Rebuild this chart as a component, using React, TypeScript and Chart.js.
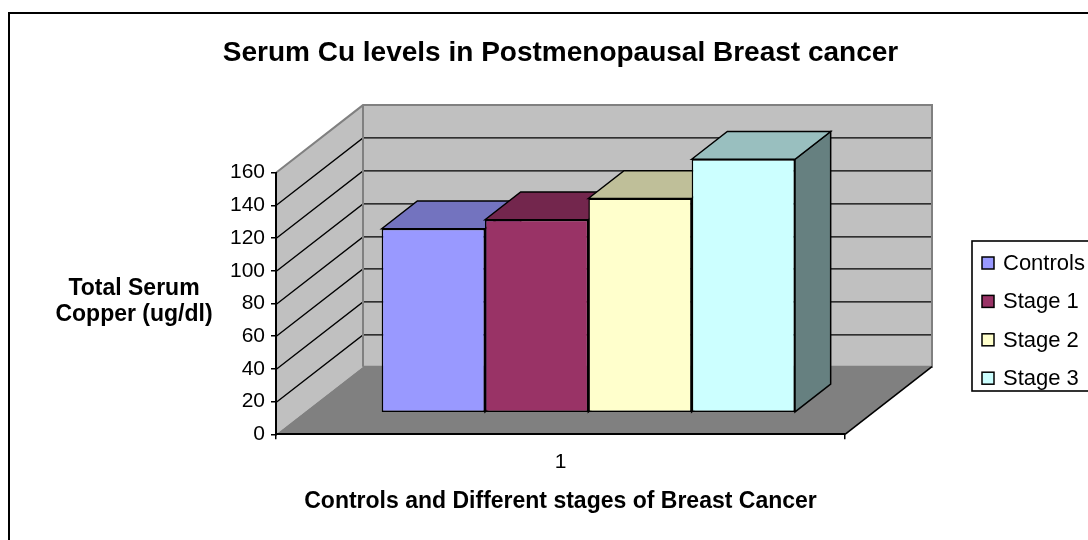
import React, { useEffect, useRef } from 'react';
import { Chart, registerables } from 'chart.js';

Chart.register(...registerables);

// ---------- data ----------
const categories = ['1'];
const seriesLabels = ['Controls', 'Stage 1', 'Stage 2', 'Stage 3'];
const controlsValues = [112.5];
const stage1Values = [118];
const stage2Values = [131];
const stage3Values = [155];
const seriesColors = ['#9999FF', '#993366', '#FFFFCC', '#CCFFFF'];
const yMin = 0;
const yMax = 160;
const yStep = 20;
const chartTitle = 'Serum Cu levels in Postmenopausal Breast cancer';
const yAxisTitle = ['Total Serum', 'Copper (ug/dl)'];
const xAxisTitle = 'Controls and Different stages of Breast Cancer';

// ---------- layout / style ----------
const FONT = "'Liberation Sans', Arial, Helvetica, sans-serif";
const W = 1088;
const H = 540;
const AREA = { left: 276, right: 845, top: 172.7, bottom: 434.3 };
const DEPTH = { dx: 87, dy: 67.6 };
const BAR_FRONT = 0.32;
const BAR_BACK = 0.73;
const WALL = '#c0c0c0';
const FLOOR = '#808080';
const EDGE = '#808080';

function shade(hex: string, f: number) {
  const n = parseInt(hex.slice(1), 16);
  const r = Math.round(((n >> 16) & 255) * f);
  const g = Math.round(((n >> 8) & 255) * f);
  const b = Math.round((n & 255) * f);
  return `rgb(${r},${g},${b})`;
}

function poly(ctx: CanvasRenderingContext2D, pts: number[][], fill?: string, stroke?: string, lw = 1) {
  ctx.beginPath();
  pts.forEach(([x, y], i) => (i === 0 ? ctx.moveTo(x, y) : ctx.lineTo(x, y)));
  ctx.closePath();
  if (fill) {
    ctx.fillStyle = fill;
    ctx.fill();
  }
  if (stroke) {
    ctx.strokeStyle = stroke;
    ctx.lineWidth = lw;
    ctx.lineJoin = 'miter';
    ctx.stroke();
  }
}

const excel3d = {
  id: 'excel3d',
  beforeDraw(chart: any) {
    const { ctx, chartArea: a } = chart;
    const ys = chart.scales.y;
    const { dx, dy } = DEPTH;
    ctx.save();
    ctx.fillStyle = '#fff';
    ctx.fillRect(0, 0, chart.width, chart.height);
    // outer frame
    ctx.strokeStyle = '#000';
    ctx.lineWidth = 2;
    ctx.strokeRect(9, 13, chart.width + 40, chart.height + 40);

    // walls and floor
    poly(ctx, [[a.left, a.top], [a.left + dx, a.top - dy], [a.left + dx, a.bottom - dy], [a.left, a.bottom]], WALL);
    poly(ctx, [[a.left + dx, a.top - dy], [a.right + dx, a.top - dy], [a.right + dx, a.bottom - dy], [a.left + dx, a.bottom - dy]], WALL);
    poly(ctx, [[a.left, a.bottom], [a.left + dx, a.bottom - dy], [a.right + dx, a.bottom - dy], [a.right, a.bottom]], FLOOR);

    // gridlines (side + back wall)
    ctx.strokeStyle = '#000';
    ctx.lineWidth = 1.4;
    for (const t of ys.ticks) {
      if (t.value <= yMin || t.value >= yMax) continue;
      const py = Math.round(ys.getPixelForValue(t.value)) + 0.5;
      ctx.beginPath();
      ctx.moveTo(a.left, py);
      ctx.lineTo(a.left + dx, py - dy);
      ctx.lineTo(a.right + dx, py - dy);
      ctx.stroke();
    }
    // wall edges
    ctx.strokeStyle = EDGE;
    ctx.lineWidth = 2;
    ctx.beginPath();
    ctx.moveTo(a.left, a.top);
    ctx.lineTo(a.left + dx, a.top - dy);
    ctx.lineTo(a.right + dx, a.top - dy);
    ctx.lineTo(a.right + dx, a.bottom - dy);
    ctx.lineTo(a.left + dx, a.bottom - dy);
    ctx.moveTo(a.left + dx, a.top - dy);
    ctx.lineTo(a.left + dx, a.bottom - dy);
    ctx.stroke();
    // floor right edge
    ctx.strokeStyle = '#000';
    ctx.lineWidth = 1.6;
    ctx.beginPath();
    ctx.moveTo(a.right, a.bottom);
    ctx.lineTo(a.right + dx, a.bottom - dy);
    ctx.stroke();

    // chart title
    ctx.fillStyle = '#000';
    ctx.textAlign = 'center';
    ctx.textBaseline = 'alphabetic';
    ctx.font = `bold 28px ${FONT}`;
    ctx.fillText(chartTitle, (a.left + a.right) / 2, 61);

    // y axis title (horizontal, two lines)
    ctx.font = `bold 23px ${FONT}`;
    yAxisTitle.forEach((line, i) => ctx.fillText(line, 134, 295 + i * 26));
    ctx.restore();
  },
  beforeDatasetsDraw(chart: any) {
    const { ctx } = chart;
    const { dx, dy } = DEPTH;
    const fx = dx * BAR_FRONT;
    const fy = dy * BAR_FRONT;
    const ddx = dx * (BAR_BACK - BAR_FRONT);
    const ddy = dy * (BAR_BACK - BAR_FRONT);
    // draw bars from left to right so nearer faces overlap correctly
    chart.data.datasets.forEach((ds: any, di: number) => {
      const meta = chart.getDatasetMeta(di);
      if (!meta.visible) return;
      const color = ds.backgroundColor as string;
      meta.data.forEach((el: any) => {
        const { x, y, base, width } = el.getProps(['x', 'y', 'base', 'width'], true);
        const x0 = x - width / 2;
        const x1 = x + width / 2;
        ctx.save();
        ctx.translate(fx, -fy);
        el.draw(ctx);
        // side face
        poly(ctx, [[x1, y], [x1 + ddx, y - ddy], [x1 + ddx, base - ddy], [x1, base]], shade(color, 0.5), '#000', 1.5);
        // top face
        poly(ctx, [[x0, y], [x0 + ddx, y - ddy], [x1 + ddx, y - ddy], [x1, y]], shade(color, 0.75), '#000', 1.5);
        ctx.restore();
      });
    });
    return false;
  },
  afterDraw(chart: any) {
    const { ctx } = chart;
    ctx.save();
    const bx = 972;
    const by = 241;
    ctx.fillStyle = '#fff';
    ctx.fillRect(bx, by, 200, 150);
    ctx.strokeStyle = '#000';
    ctx.lineWidth = 1.6;
    ctx.strokeRect(bx, by, 200, 150);
    ctx.font = `22px ${FONT}`;
    ctx.textAlign = 'left';
    ctx.textBaseline = 'middle';
    chart.data.datasets.forEach((ds: any, i: number) => {
      const cy = 263 + i * 38.4;
      ctx.fillStyle = ds.backgroundColor;
      ctx.fillRect(982, cy - 6, 12, 12);
      ctx.strokeStyle = '#000';
      ctx.lineWidth = 1.5;
      ctx.strokeRect(982, cy - 6, 12, 12);
      ctx.fillStyle = '#000';
      ctx.fillText(ds.label, 1003, cy + 1);
    });
    ctx.restore();
  },
};

export default function App() {
  const ref = useRef<HTMLCanvasElement>(null);
  useEffect(() => {
    const canvas = ref.current!;
    const seriesValues = [controlsValues, stage1Values, stage2Values, stage3Values];
    const datasets = seriesValues.map((data, i) => ({
      label: seriesLabels[i],
      data,
      backgroundColor: seriesColors[i],
      borderColor: '#000',
      borderWidth: 1.5,
      borderSkipped: false as const,
      categoryPercentage: 0.7264,
      barPercentage: 1,
    }));
    const chart = new Chart(canvas, {
      type: 'bar',
      data: { labels: categories, datasets },
      plugins: [excel3d as any],
      options: {
        responsive: false,
        animation: false,
        devicePixelRatio: 1,
        layout: { padding: { left: 0, right: W - AREA.right, top: AREA.top, bottom: 0 } },
        plugins: { legend: { display: false }, title: { display: false }, tooltip: { enabled: false } },
        scales: {
          x: {
            offset: true,
            grid: { display: true, drawOnChartArea: false, drawTicks: true, tickLength: 5, color: '#000', lineWidth: 1.5, offset: true },
            border: { display: true, color: '#000', width: 2 },
            ticks: { color: '#000', font: { family: FONT, size: 21 }, padding: 10 },
            title: { display: true, text: xAxisTitle, color: '#000', font: { family: FONT, size: 23, weight: 'bold' }, padding: { top: 0, bottom: 25 } },
            afterFit: (s: any) => { s.height = H - AREA.bottom; },
          },
          y: {
            min: yMin,
            max: yMax,
            ticks: { stepSize: yStep, color: '#000', font: { family: FONT, size: 21 }, padding: 6 },
            grid: { display: true, drawOnChartArea: false, drawTicks: true, tickLength: 5, color: '#000', lineWidth: 1.5 },
            border: { display: true, color: '#000', width: 2 },
            afterFit: (s: any) => { s.width = AREA.left; },
          },
        },
      },
    });
    return () => chart.destroy();
  }, []);
  return (
    <div style={{ position: 'fixed', left: 0, top: 0, width: W, height: H, background: '#fff' }}>
      <canvas ref={ref} width={W} height={H} style={{ display: 'block', width: W, height: H }} />
    </div>
  );
}
